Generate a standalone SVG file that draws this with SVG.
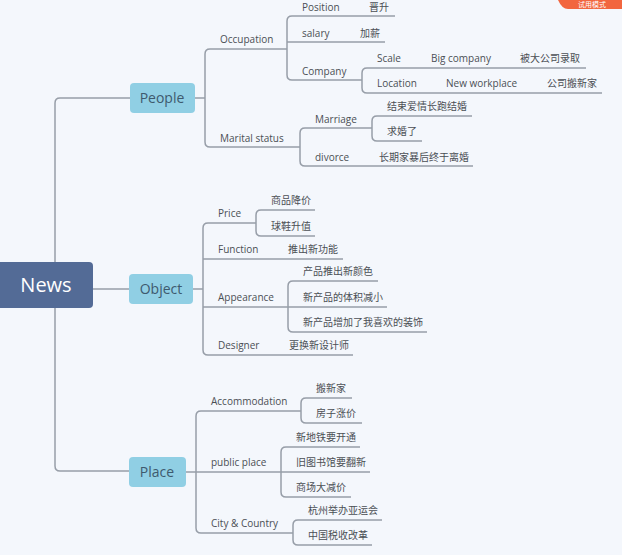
<svg xmlns="http://www.w3.org/2000/svg" width="622" height="555" viewBox="0 0 622 555">
<style>
.bg{fill:#f4f7fc}
.ln{fill:none;stroke:#979ea8;stroke-width:1.5;stroke-linejoin:round}
.t{font-family:"Open Sans","Noto Sans CJK SC",sans-serif;font-size:10px;fill:#4b4f55}
.main{fill:#536b96}
.sub{fill:#90cfe4}
.mt{font-family:"Open Sans",sans-serif;font-size:20px;fill:#ffffff;text-anchor:middle}
.st{font-family:"Open Sans",sans-serif;font-size:14px;fill:#3e5a6e;text-anchor:middle}
</style>
<rect class="bg" x="0" y="0" width="622" height="555"/>
<g id="badge">
<path d="M558 0 H622 V9 H568 Q562 9 558 0 Z" fill="#f2663f"/>
<text x="592" y="7" font-family="Noto Sans CJK SC,sans-serif" font-size="7" fill="#ffffff" text-anchor="middle">试用模式</text>
</g>
<g id="connectors">
<path class="ln" d="M130 98 H60 Q55 98 55 103 V466 Q55 471 60 471 H130"/>
<path class="ln" d="M93 289 H129"/>
<path class="ln" d="M195 98 H205"/>
<path class="ln" d="M287 49 H210 Q205 49 205 54 V142 Q205 147 210 147 H300"/>
<path class="ln" d="M395 16 H292 Q287 16 287 21 V75 Q287 80 292 80 H362"/>
<path class="ln" d="M287 42 H385"/>
<path class="ln" d="M586 68 H367 Q362 68 362 73 V88 Q362 93 367 93 H602"/>
<path class="ln" d="M372 128 H305 Q300 128 300 133 V161 Q300 166 305 166 H473"/>
<path class="ln" d="M472 116 H377 Q372 116 372 121 V136 Q372 141 377 141 H422"/>
<path class="ln" d="M193 289 H203"/>
<path class="ln" d="M256 223 H208 Q203 223 203 228 V350 Q203 355 208 355 H353"/>
<path class="ln" d="M203 259 H343"/>
<path class="ln" d="M203 307 H387"/>
<path class="ln" d="M315 210 H261 Q256 210 256 215 V231 Q256 236 261 236 H315"/>
<path class="ln" d="M378 281 H293 Q288 281 288 286 V327 Q288 332 293 332 H427"/>
<path class="ln" d="M186 472 H196"/>
<path class="ln" d="M301 411 H201 Q196 411 196 416 V528 Q196 533 201 533 H293"/>
<path class="ln" d="M196 472 H370"/>
<path class="ln" d="M352 398 H306 Q301 398 301 403 V418 Q301 423 306 423 H362"/>
<path class="ln" d="M360 447 H286 Q281 447 281 452 V492 Q281 497 286 497 H351"/>
<path class="ln" d="M382 520 H298 Q293 520 293 525 V540 Q293 545 298 545 H372"/>
</g>
<g id="news">
<rect class="main" x="-6" y="262" width="99" height="46" rx="4"/>
<text class="mt" x="46" y="292">News</text>
</g>
<g id="people">
<rect class="sub" x="130" y="83" width="65" height="30" rx="4"/>
<text class="st" x="162" y="103">People</text>
</g>
<g id="object">
<rect class="sub" x="129" y="274" width="64" height="30" rx="4"/>
<text class="st" x="161" y="294">Object</text>
</g>
<g id="place">
<rect class="sub" x="129" y="457" width="57" height="30" rx="4"/>
<text class="st" x="157" y="477">Place</text>
</g>
<g id="people-topics">
<text class="t" x="220" y="43">Occupation</text>
<text class="t" x="302" y="11">Position</text>
<text class="t" x="369" y="11">晋升</text>
<text class="t" x="302" y="37">salary</text>
<text class="t" x="360" y="37">加薪</text>
<text class="t" x="302" y="75">Company</text>
<text class="t" x="377" y="62">Scale</text>
<text class="t" x="431" y="62">Big company</text>
<text class="t" x="520" y="62">被大公司录取</text>
<text class="t" x="377" y="87">Location</text>
<text class="t" x="446" y="87">New workplace</text>
<text class="t" x="547" y="87">公司搬新家</text>
<text class="t" x="220" y="142">Marital status</text>
<text class="t" x="315" y="123">Marriage</text>
<text class="t" x="387" y="110">结束爱情长跑结婚</text>
<text class="t" x="387" y="135">求婚了</text>
<text class="t" x="315" y="161">divorce</text>
<text class="t" x="379" y="161">长期家暴后终于离婚</text>
</g>
<g id="object-topics">
<text class="t" x="218" y="217">Price</text>
<text class="t" x="271" y="204">商品降价</text>
<text class="t" x="271" y="230">球鞋升值</text>
<text class="t" x="218" y="253">Function</text>
<text class="t" x="288" y="253">推出新功能</text>
<text class="t" x="218" y="301">Appearance</text>
<text class="t" x="303" y="275">产品推出新颜色</text>
<text class="t" x="303" y="301">新产品的体积减小</text>
<text class="t" x="303" y="326">新产品增加了我喜欢的装饰</text>
<text class="t" x="218" y="349">Designer</text>
<text class="t" x="289" y="349">更换新设计师</text>
</g>
<g id="place-topics">
<text class="t" x="211" y="405">Accommodation</text>
<text class="t" x="316" y="392">搬新家</text>
<text class="t" x="316" y="417">房子涨价</text>
<text class="t" x="211" y="466">public place</text>
<text class="t" x="296" y="441">新地铁要开通</text>
<text class="t" x="296" y="466">旧图书馆要翻新</text>
<text class="t" x="296" y="491">商场大减价</text>
<text class="t" x="211" y="527">City &amp; Country</text>
<text class="t" x="308" y="514">杭州举办亚运会</text>
<text class="t" x="308" y="539">中国税收改革</text>
</g>
</svg>
